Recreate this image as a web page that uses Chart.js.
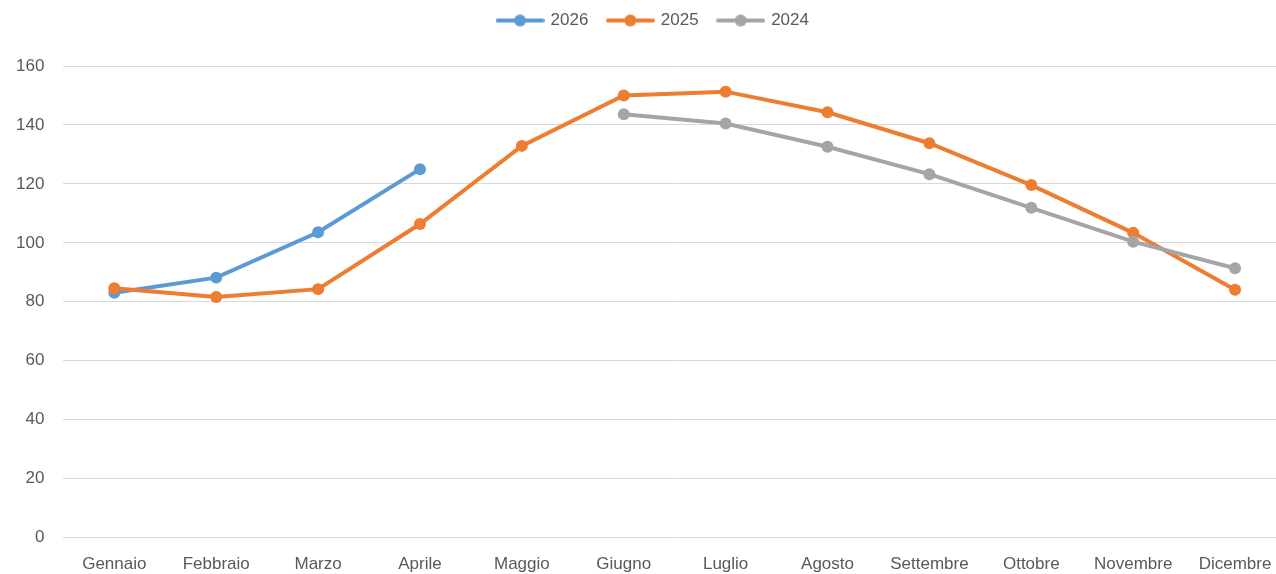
<!DOCTYPE html>
<html lang="it">
<head>
    <meta charset="UTF-8">
    <title>Andamento mensile</title>
    <script src="https://cdn.jsdelivr.net/npm/chart.js"></script>
    <style>
        html, body { margin: 0; padding: 0; background: #fff; overflow: hidden; }
        .chart-box { width: 1292px; height: 574px; }
    </style>
</head>
<body>
    <div class="chart-box">
        <canvas id="meseChart"></canvas>
    </div>

    <script>
        // Dati
        const mesi = ['Gennaio', 'Febbraio', 'Marzo', 'Aprile', 'Maggio', 'Giugno',
                      'Luglio', 'Agosto', 'Settembre', 'Ottobre', 'Novembre', 'Dicembre'];
        const anno2026 = [83.1, 88.2, 103.6, 125.0, null, null, null, null, null, null, null, null];
        const anno2025 = [84.6, 81.6, 84.3, 106.4, 132.9, 150.0, 151.3, 144.3, 133.8, 119.6, 103.4, 84.1];
        const anno2024 = [null, null, null, null, null, 143.6, 140.5, 132.6, 123.3, 111.9, 100.4, 91.4];
        const yTicks = [0, 20, 40, 60, 80, 100, 120, 140, 160];

        const BLU = '#5B9BD5';
        const ARANCIO = '#ED7D31';
        const GRIGIO = '#A5A5A5';
        const TESTO = '#595959';
        const FONT = "'Liberation Sans', Arial, sans-serif";

        // icona legenda: linea con pallino, come in Excel
        function iconaLegenda(colore) {
            const c = document.createElement('canvas');
            c.width = 49;
            c.height = 14;
            const ctx = c.getContext('2d');
            ctx.strokeStyle = colore;
            ctx.lineWidth = 4;
            ctx.lineCap = 'round';
            ctx.beginPath();
            ctx.moveTo(2, 7);
            ctx.lineTo(47, 7);
            ctx.stroke();
            ctx.fillStyle = colore;
            ctx.beginPath();
            ctx.arc(24.5, 7, 6, 0, Math.PI * 2);
            ctx.fill();
            return c;
        }

        function serie(label, dati, colore, ordine) {
            return {
                label: label,
                data: dati,
                borderColor: colore,
                backgroundColor: colore,
                borderWidth: 4,
                pointRadius: 6,
                pointHoverRadius: 6,
                pointBorderWidth: 0,
                pointBackgroundColor: colore,
                tension: 0,
                spanGaps: false,
                order: ordine,
                icona: iconaLegenda(colore)
            };
        }

        // spazio extra sotto la legenda e legenda un po' a destra
        const spazioLegenda = {
            id: 'spazioLegenda',
            beforeInit(chart) {
                const fitOrig = chart.legend.fit;
                chart.legend.fit = function () {
                    fitOrig.bind(chart.legend)();
                    this.height += 27;
                };
            },
            afterLayout(chart) {
                chart.legend.left += 9;
                chart.legend.right += 9;
            }
        };

        const ctx = document.getElementById('meseChart').getContext('2d');
        new Chart(ctx, {
            type: 'line',
            data: {
                labels: mesi,
                datasets: [
                    serie('2026', anno2026, BLU, 2),
                    serie('2025', anno2025, ARANCIO, 1),
                    serie('2024', anno2024, GRIGIO, 0)
                ]
            },
            plugins: [spazioLegenda],
            options: {
                responsive: true,
                maintainAspectRatio: false,
                animation: false,
                layout: { padding: { left: -3, right: 0, top: -8, bottom: -10 } },
                plugins: {
                    tooltip: { enabled: false },
                    legend: {
                        position: 'top',
                        labels: {
                            usePointStyle: true,
                            pointStyleWidth: 44,
                            padding: 20,
                            color: TESTO,
                            font: { family: FONT, size: 17 },
                            sort: (a, b) => a.datasetIndex - b.datasetIndex,
                            generateLabels: (chart) => {
                                const items = Chart.defaults.plugins.legend.labels.generateLabels(chart);
                                items.forEach(it => {
                                    it.pointStyle = chart.data.datasets[it.datasetIndex].icona;
                                });
                                return items;
                            }
                        }
                    }
                },
                scales: {
                    x: {
                        offset: true,
                        grid: { display: false },
                        border: { display: false },
                        ticks: {
                            color: TESTO,
                            font: { family: FONT, size: 17 },
                            padding: 9,
                            maxRotation: 0,
                            autoSkip: false
                        }
                    },
                    y: {
                        min: 0,
                        max: 160,
                        afterBuildTicks: (axis) => {
                            axis.ticks = yTicks.map(v => ({ value: v }));
                        },
                        grid: { color: '#D9D9D9', lineWidth: 1, drawTicks: false },
                        border: { display: false },
                        ticks: {
                            color: TESTO,
                            font: { family: FONT, size: 17 },
                            padding: 19
                        }
                    }
                }
            }
        });
    </script>
</body>
</html>
